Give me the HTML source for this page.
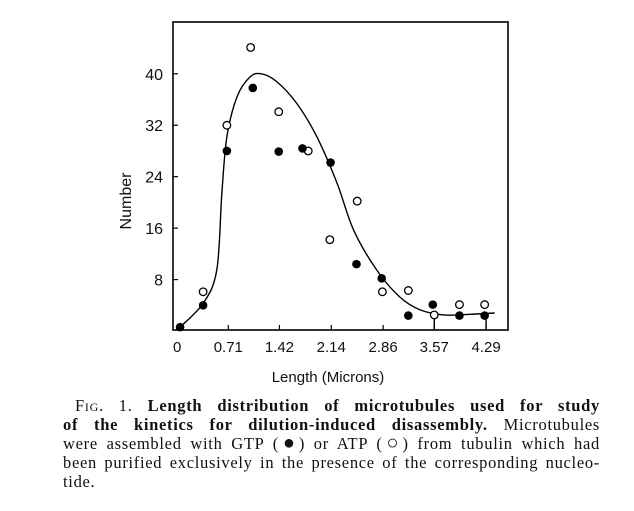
<!DOCTYPE html>
<html><head><meta charset="utf-8"><style>
body{margin:0;background:#fff;width:634px;height:511px;overflow:hidden;position:relative}
.cap{position:absolute;left:63px;width:537px;font-family:"Liberation Serif",serif;font-size:16.5px;letter-spacing:0.7px;line-height:19px;text-align:justify;text-align-last:justify;white-space:nowrap;color:#111}
.sym{font-size:20px;line-height:10px;letter-spacing:0}
</style></head><body>
<svg width="634" height="511" style="position:absolute;left:0;top:0">
<g id="g"></g>
</svg>
<div class="cap" style="top:396px;left:75px;width:525px"><span style="font-variant:small-caps">Fig.</span> 1. <b>Length distribution of microtubules used for study</b></div>
<div class="cap" style="top:415px"><b>of the kinetics for dilution-induced disassembly.</b> Microtubules</div>
<div class="cap" style="top:434px">were assembled with GTP (<span class="sym">●</span>) or ATP (<span class="sym">○</span>) from tubulin which had</div>
<div class="cap" style="top:453px">been purified exclusively in the presence of the corresponding nucleo-</div>
<div class="cap" style="top:472px;text-align-last:left">tide.</div>
<script>
const xTicks=[0,0.71,1.42,2.14,2.86,3.57,4.29];
const xTickLabels=["0","0.71","1.42","2.14","2.86","3.57","4.29"];
const yTicks=[8,16,24,32,40];
const atpX=[0.36,0.69,1.02,1.41,1.82,2.12,2.50,2.85,3.21,3.57,3.92,4.27];
const atpY=[6.1,32.0,44.1,34.1,28.0,14.2,20.2,6.1,6.3,2.5,4.1,4.1];
const gtpX=[0.04,0.36,0.69,1.05,1.41,1.74,2.13,2.49,2.84,3.21,3.55,3.92,4.27];
const gtpY=[0.6,4.0,28.0,37.8,27.9,28.4,26.2,10.4,8.2,2.4,4.1,2.4,2.4];
const curveX=[0.02,0.36,0.55,0.62,0.69,0.83,1.01,1.17,1.38,1.66,1.94,2.22,2.45,2.77,3.09,3.37,3.70,4.07,4.41];
const curveY=[0.4,4.3,9.5,21.4,30.2,36.4,39.5,40.0,38.8,35.4,30.2,23.0,15.7,9.5,5.3,3.3,2.5,2.6,2.8];
const X=v=>177.2+v*72, Y=v=>331-v*6.43;
const NS="http://www.w3.org/2000/svg", g=document.getElementById('g');
function mk(t,a){const e=document.createElementNS(NS,t);for(const k in a)e.setAttribute(k,a[k]);g.appendChild(e);return e;}
const frame=mk('rect',{x:173,y:22,width:335,height:308,fill:'none',stroke:'#000','stroke-width':1.6});


yTicks.forEach(v=>{
 const t=mk('line',{x1:173,x2:178,y1:Y(v),y2:Y(v),stroke:'#000','stroke-width':1.2});
 
 
 const l=mk('text',{x:163,y:Y(v)+6,'text-anchor':'end','font-family':'Liberation Sans, sans-serif','font-size':16,fill:'#111'});
 l.textContent=v;
 
 
});
xTicks.forEach((v,i)=>{
 const t=mk('line',{x1:X(v),x2:X(v),y1:330,y2:325,stroke:'#000','stroke-width':1.2});
 
 
 const l=mk('text',{x:X(v),y:352,'text-anchor':'middle','font-family':'Liberation Sans, sans-serif','font-size':15,fill:'#111'});
 l.textContent=xTickLabels[i];
 
 
});
const xt=mk('text',{x:328,y:382,'text-anchor':'middle','font-family':'Liberation Sans, sans-serif','font-size':15,fill:'#111'});
xt.textContent='Length (Microns)';


const yt=mk('text',{x:0,y:0,'text-anchor':'middle','font-family':'Liberation Sans, sans-serif','font-size':16,fill:'#111',transform:'translate(131,201) rotate(-90)'});
yt.textContent='Number';


const P=curveX.map((x,i)=>[X(x),Y(curveY[i])]);
let d='M'+P[0][0]+','+P[0][1];
for(let i=0;i<P.length-1;i++){const p0=P[Math.max(0,i-1)],p1=P[i],p2=P[i+1],p3=P[Math.min(P.length-1,i+2)];
 d+=' C'+(p1[0]+(p2[0]-p0[0])/6)+','+(p1[1]+(p2[1]-p0[1])/6)+' '+(p2[0]-(p3[0]-p1[0])/6)+','+(p2[1]-(p3[1]-p1[1])/6)+' '+p2[0]+','+p2[1];}
const c=mk('path',{d:d,fill:'none',stroke:'#000','stroke-width':1.4});


[3.57,4.29].forEach(v=>{
 const e=mk('line',{x1:X(v),x2:X(v),y1:Y(2.5),y2:330,stroke:'#000','stroke-width':1.4});
 
 
});
atpX.forEach((x,i)=>{
 const p=mk('circle',{cx:X(x),cy:Y(atpY[i]),r:3.8,fill:'#fff',stroke:'#000','stroke-width':1.3});
 
 
});
gtpX.forEach((x,i)=>{
 const p=mk('circle',{cx:X(x),cy:Y(gtpY[i]),r:4.3,fill:'#000'});
 
 
});
</script>
</body></html>
